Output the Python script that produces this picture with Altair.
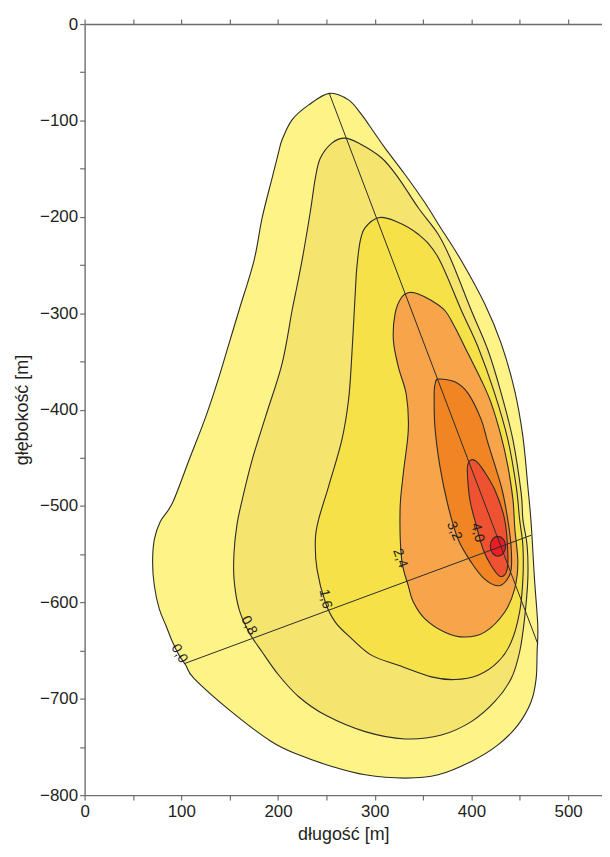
import altair as alt
import pandas as pd

# ---- data ----
LEVELS = ["0,0", "0,8", "1,6", "2,4", "3,2", "4,0", "4,8"]
FILLS = ["#FEF386", "#F5E46E", "#F7E148", "#F8A44A", "#F28523", "#EF5230", "#EE1C25"]

C00_X = [253.0, 272.9, 286.6, 298.7, 310.7, 331.3, 351.9, 365.6, 389.6, 413.7, 430.8, 444.6, 453.2, 458.3, 461.7,
         465.2, 468.6, 467.9, 466.9, 461.7, 448.0, 427.4, 399.9, 365.6, 331.3, 290.1, 255.7, 221.4, 193.0, 151.4,
         113.3, 104.7, 97.8, 90.9, 84.1, 77.2, 72.1, 70.3, 72.1, 78.3, 90.9, 108.1, 125.3, 139.0, 149.3, 159.6,
         175.1, 183.6, 193.9, 200.8, 204.2, 214.5, 231.7]
C00_Y = [-71.9, -78.7, -94.2, -111.5, -128.7, -156.1, -185.4, -207.4, -245.6, -290.3, -331.6, -379.8, -428.0, -479.6,
         -517.3, -575.9, -624.0, -651.5, -679.1, -703.1, -727.3, -747.9, -765.0, -778.9, -782.3, -778.9, -770.2,
         -758.2, -744.4, -713.1, -679.1, -665.3, -655.0, -641.2, -624.0, -606.8, -582.8, -558.6, -534.6, -516.0,
         -496.7, -452.0, -407.3, -366.0, -331.6, -297.2, -245.6, -200.9, -159.6, -132.1, -120.0, -99.4, -83.9]

C08_X = [268.8, 283.2, 307.2, 324.4, 345.0, 365.6, 379.3, 399.9, 417.1, 430.8, 442.9, 451.4, 453.2, 457.6, 458.3,
         454.9, 449.8, 441.1, 424.0, 399.9, 369.0, 331.3, 290.1, 248.9, 221.4, 200.8, 183.6, 169.9, 159.6, 154.5,
         154.5, 157.6, 163.0, 173.3, 187.1, 204.2, 214.5, 218.0, 225.5, 233.5, 238.6, 243.8, 255.7]
C08_Y = [-118.4, -123.5, -139.0, -159.6, -190.6, -218.1, -245.6, -297.2, -338.5, -383.2, -431.4, -486.4, -513.9,
         -541.5, -575.9, -617.1, -651.5, -679.1, -703.1, -723.7, -737.6, -741.7, -734.1, -716.9, -697.9, -675.6,
         -651.5, -630.9, -606.8, -575.9, -548.3, -519.1, -493.3, -452.0, -407.3, -352.2, -297.2, -280.0, -241.5,
         -194.0, -159.6, -139.0, -123.5]

C16_X = [303.8, 321.0, 345.0, 365.6, 389.6, 406.8, 424.0, 437.7, 446.3, 449.8, 453.2, 453.2, 449.8, 441.1, 427.4,
         406.8, 382.8, 358.7, 324.4, 296.9, 276.3, 259.2, 248.9, 240.3, 238.6, 242.0, 252.3, 266.0, 272.9, 276.0,
         279.8, 281.5, 285.0, 290.1]
C16_Y = [-200.9, -204.3, -218.1, -242.2, -297.2, -335.1, -383.2, -431.4, -479.6, -513.9, -541.5, -575.9, -610.2,
         -641.2, -661.8, -675.6, -680.1, -677.3, -665.3, -655.0, -637.8, -620.5, -599.9, -565.5, -534.6, -513.9,
         -479.6, -431.4, -390.1, -348.8, -280.0, -252.5, -225.0, -211.2]

C24_X = [345.0, 358.7, 372.5, 382.8, 396.5, 410.2, 420.5, 430.8, 437.7, 442.9, 444.9, 448.0, 444.6, 434.3, 413.7,
         393.1, 372.5, 351.9, 339.9, 334.7, 327.8, 326.2, 329.6, 334.7, 332.7, 324.4, 319.3, 321.0, 327.8, 335.7]
C24_Y = [-280.0, -286.9, -297.2, -314.4, -341.9, -369.5, -393.5, -428.0, -458.9, -493.3, -524.3, -558.6, -586.2,
         -610.2, -630.9, -636.0, -630.9, -617.1, -599.6, -582.8, -555.2, -503.6, -465.7, -421.1, -384.9, -355.7,
         -328.2, -300.6, -283.5, -278.6]

C32_X = [365.6, 382.8, 396.5, 410.2, 417.1, 430.8, 436.7, 440.8, 441.1, 436.0, 427.4, 413.7, 399.9, 386.2, 375.9,
         367.4, 362.2, 361.5, 362.5]
C32_Y = [-368.4, -371.2, -383.2, -410.7, -434.8, -479.6, -508.8, -539.7, -565.5, -577.6, -582.8, -575.9, -558.6,
         -534.6, -500.2, -458.9, -417.6, -383.2, -373.6]

C40_X = [399.9, 405.1, 412.0, 424.0, 434.3, 437.7, 436.0, 429.2, 420.5, 412.0, 405.1, 398.3, 395.8, 396.5]
C40_Y = [-452.0, -453.8, -462.3, -483.0, -513.9, -551.8, -568.9, -572.8, -562.1, -544.9, -520.8, -493.3, -465.7,
         -456.1]

C48_X = [427.4, 433.1, 435.3, 433.1, 427.4, 421.7, 419.5, 421.7]
C48_Y = [-531.5, -534.6, -541.8, -549.0, -552.1, -549.0, -541.8, -534.6]

LINE_ID = ["a", "a", "b", "b"]
LINE_X = [253.0, 468.6, 103.0, 461.7]
LINE_Y = [-71.9, -643.0, -663.6, -530.4]

LAB_TEXT = ["0,0", "0,8", "1,6", "2,4", "3,2", "4,0"]
LAB_X = [97.8, 169.9, 248.9, 326.2, 382.1, 406.1]
LAB_Y = [-653.2, -624.0, -596.5, -554.2, -526.0, -527.7]
LAB_ANG = [60, 63, 78, 70, 67, 76]

X_TICKS = list(range(0, 536, 50))
Y_TICKS = list(range(-800, 1, 50))

# ---- chart ----
FONT = "Liberation Sans"
TXT = "#231f20"
AX = "#6d6e71"

contours = [(C00_X, C00_Y), (C08_X, C08_Y), (C16_X, C16_Y), (C24_X, C24_Y),
            (C32_X, C32_Y), (C40_X, C40_Y), (C48_X, C48_Y)]

xs = alt.Scale(domain=[0, 535], nice=False, zero=False)
ys = alt.Scale(domain=[-800, 0], nice=False, zero=False)

axis_common = dict(
    tickSize=5, tickColor=AX, tickWidth=1.2, domainColor=AX, domainWidth=1.4,
    labelFont=FONT, labelFontSize=17, labelColor=TXT, grid=False,
    labelOverlap=False, labelFlush=False, format="d",
    labelExpr="datum.value % 100 === 0 ? datum.label : ''",
    titleFont=FONT, titleFontSize=18, titleFontWeight="normal", titleColor=TXT,
)

x_bottom = alt.Axis(values=X_TICKS, title="długość [m]", labelPadding=3, titlePadding=7, **axis_common)
y_left = alt.Axis(values=Y_TICKS, title="głębokość [m]", labelPadding=2, titlePadding=8, **axis_common)
x_top = alt.Axis(values=X_TICKS, orient="top", labels=False, title=None, tickSize=5, tickColor=AX,
                 tickWidth=1.2, domainColor=AX, domainWidth=1.4, grid=False)

layers = []
for k, (cx, cy) in enumerate(contours):
    df = pd.DataFrame({"x": cx, "y": cy, "i": list(range(len(cx)))})
    first = k == 0
    layers.append(
        alt.Chart(df).mark_line(
            fill=FILLS[k], stroke="#2b2b2b", strokeWidth=1.1, interpolate="cardinal-closed"
        ).encode(
            x=alt.X("x:Q", scale=xs, axis=x_bottom if first else None),
            y=alt.Y("y:Q", scale=ys, axis=y_left if first else None),
            order="i:Q",
        )
    )

lines_df = pd.DataFrame({"id": LINE_ID, "x": LINE_X, "y": LINE_Y})
layers.append(
    alt.Chart(lines_df).mark_line(stroke="#2b2b2b", strokeWidth=1).encode(
        x=alt.X("x:Q", scale=xs, axis=x_top),
        y=alt.Y("y:Q", scale=ys, axis=None),
        detail="id:N",
    )
)

lab_df = pd.DataFrame({"t": LAB_TEXT, "x": LAB_X, "y": LAB_Y, "a": LAB_ANG})
layers.append(
    alt.Chart(lab_df).mark_text(font=FONT, fontSize=14, color=TXT).encode(
        x=alt.X("x:Q", scale=xs, axis=None),
        y=alt.Y("y:Q", scale=ys, axis=None),
        text="t:N",
        angle=alt.Angle("a:Q", scale=None),
    )
)

chart = alt.layer(*layers).resolve_axis(x="independent", y="independent").properties(
    width=520, height=775,
    padding={"left": 5, "top": 5, "right": 0, "bottom": 0},
).configure_view(stroke=None)

chart.save("out.html", embed_options={"renderer": "svg", "actions": False})
